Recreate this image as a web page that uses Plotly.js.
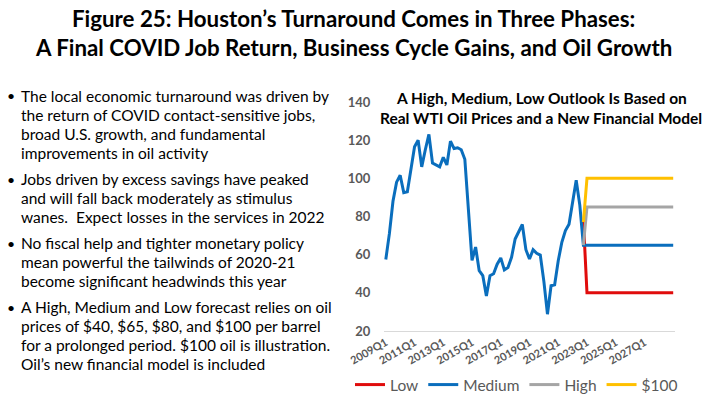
<!DOCTYPE html>
<html>
<head>
<meta charset="utf-8">
<script src="https://cdn.plot.ly/plotly-3.0.1.min.js"></script>
<style>
  html, body { margin: 0; padding: 0; background: #fff; }
  #chart { width: 706px; height: 395px; }
</style>
</head>
<body>
<div id="chart"></div>
<script>
// ---- data ----
const firstYear = 2009;
const nQuarters = 81; // 2009Q1 .. 2029Q1
const quarters = [];
for (let k = 0; k < nQuarters; k++) {
  quarters.push((firstYear + Math.floor(k / 4)) + 'Q' + (k % 4 + 1));
}
const tickLabels = ['2009Q1','2011Q1','2013Q1','2015Q1','2017Q1','2019Q1','2021Q1','2023Q1','2025Q1','2027Q1'];

const medium = [
  57.5, 71, 88, 98, 101.6, 92.5, 93, 105,
  116.5, 120, 106, 115, 123, 108, 107, 106,
  111, 107, 119.5, 115.6, 116, 115, 110, 85,
  57, 64, 51.6, 49, 38.4, 49, 50, 55,
  58.3, 52, 53.3, 58.6, 68.2, 72, 75.8, 62.6,
  57.7, 62.6, 60.7, 59.8, 46, 28.8, 43.7, 44.2,
  56.8, 66.5, 72.6, 76, 87, 99, 86, 65,
  65, 65, 65, 65, 65, 65, 65, 65,
  65, 65, 65, 65, 65, 65, 65, 65,
  65, 65, 65, 65, 65, 65, 65, 65,
  65
];
const low = [
  null, null, null, null, null, null, null, null,
  null, null, null, null, null, null, null, null,
  null, null, null, null, null, null, null, null,
  null, null, null, null, null, null, null, null,
  null, null, null, null, null, null, null, null,
  null, null, null, null, null, null, null, null,
  null, null, null, null, null, null, null, 78,
  40, 40, 40, 40, 40, 40, 40, 40,
  40, 40, 40, 40, 40, 40, 40, 40,
  40, 40, 40, 40, 40, 40, 40, 40,
  40
];
const high = [
  null, null, null, null, null, null, null, null,
  null, null, null, null, null, null, null, null,
  null, null, null, null, null, null, null, null,
  null, null, null, null, null, null, null, null,
  null, null, null, null, null, null, null, null,
  null, null, null, null, null, null, null, null,
  null, null, null, null, null, null, null, 65,
  85, 85, 85, 85, 85, 85, 85, 85,
  85, 85, 85, 85, 85, 85, 85, 85,
  85, 85, 85, 85, 85, 85, 85, 85,
  85
];
const oil100 = [
  null, null, null, null, null, null, null, null,
  null, null, null, null, null, null, null, null,
  null, null, null, null, null, null, null, null,
  null, null, null, null, null, null, null, null,
  null, null, null, null, null, null, null, null,
  null, null, null, null, null, null, null, null,
  null, null, null, null, null, null, null, 77,
  100, 100, 100, 100, 100, 100, 100, 100,
  100, 100, 100, 100, 100, 100, 100, 100,
  100, 100, 100, 100, 100, 100, 100, 100,
  100
];

const mainTitle = ['Figure 25: Houston’s Turnaround Comes in Three Phases:', 'A Final COVID Job Return, Business Cycle Gains, and Oil Growth'];
const chartTitle = ['A High, Medium, Low Outlook Is Based on', 'Real WTI Oil Prices and a New Financial Model'];
const bullets = [
  ['The local economic turnaround was driven by', 'the return of COVID contact-sensitive jobs,', 'broad U.S. growth, and fundamental', 'improvements in oil activity'],
  ['Jobs driven by excess savings have peaked', 'and will fall back moderately as stimulus', 'wanes.  Expect losses in the services in 2022'],
  ['No fiscal help and tighter monetary policy', 'mean powerful the tailwinds of 2020-21', 'become significant headwinds this year'],
  ['A High, Medium and Low forecast relies on oil', 'prices of $40, $65, $80, and $100 per barrel', 'for a prolonged period. $100 oil is illustration.', 'Oil’s new financial model is included']
];

// ---- layout helpers (pixel -> paper) ----
const W = 706, H = 395;
const PL = 384, PR = 675, PT = 102, PB = 331;
const px = x => (x - PL) / (PR - PL);
const py = y => (PB - y) / (PB - PT);

const annotations = [];
// main title
mainTitle.forEach((t, k) => {
  annotations.push({
    text: '<b>' + t + '</b>', xref: 'paper', yref: 'paper',
    x: px(353), y: py(18 + k * 29), xanchor: 'center', yanchor: 'middle',
    showarrow: false, font: { family: 'Lato, sans-serif', size: 22.3, color: '#000' }
  });
});
// chart title
chartTitle.forEach((t, k) => {
  annotations.push({
    text: '<b>' + t + '</b>', xref: 'paper', yref: 'paper',
    x: px(541), y: py(98 + k * 19.5), xanchor: 'center', yanchor: 'middle',
    showarrow: false, font: { family: 'Lato, sans-serif', size: 15.5, color: '#000' }
  });
});
// bullets
const paraStart = [96, 179, 243, 307];
bullets.forEach((para, p) => {
  annotations.push({
    text: '•', xref: 'paper', yref: 'paper', x: px(5), y: py(paraStart[p]),
    xanchor: 'left', yanchor: 'middle', showarrow: false,
    font: { family: 'Lato, sans-serif', size: 14, color: '#000' }
  });
  para.forEach((line, k) => {
    annotations.push({
      text: line, xref: 'paper', yref: 'paper', x: px(19), y: py(paraStart[p] + k * 19),
      xanchor: 'left', yanchor: 'middle', showarrow: false,
      font: { family: 'Lato, sans-serif', size: 15.5, color: '#000' }
    });
  });
});

const lineW = 3;
const traces = [
  { name: 'Low', x: quarters, y: low, type: 'scatter', mode: 'lines', line: { color: '#E00C0C', width: lineW } },
  { name: 'Medium', x: quarters, y: medium, type: 'scatter', mode: 'lines', line: { color: '#0A6EBD', width: lineW } },
  { name: 'High', x: quarters, y: high, type: 'scatter', mode: 'lines', line: { color: '#A5A5A5', width: lineW } },
  { name: '$100', x: quarters, y: oil100, type: 'scatter', mode: 'lines', line: { color: '#FFC000', width: lineW } }
];

const layout = {
  width: W, height: H,
  margin: { l: PL, r: W - PR, t: PT, b: H - PB, autoexpand: false },
  paper_bgcolor: '#fff', plot_bgcolor: '#fff',
  showlegend: true,
  xaxis: {
    type: 'category', categoryorder: 'array', categoryarray: quarters,
    range: [-0.5, nQuarters - 0.5],
    tickmode: 'array', tickvals: tickLabels, ticktext: tickLabels.map(t => '<b>' + t + '</b>'),
    tickangle: -30, tickfont: { family: 'Lato, sans-serif', size: 11, color: '#595959' },
    showgrid: false, zeroline: false, showline: true, linecolor: '#D9D9D9', linewidth: 1,
    ticks: ''
  },
  yaxis: {
    range: [20, 140], tickmode: 'array', tickvals: [20, 40, 60, 80, 100, 120, 140],
    ticktext: ['20','40','60','80','100','120','140'].map(t => '<b>' + t + '</b>'),
    tickfont: { family: 'Lato, sans-serif', size: 13, color: '#595959' },
    showgrid: false, zeroline: false, showline: false,
    ticks: 'outside', ticklen: 10, tickcolor: 'rgba(0,0,0,0)'
  },
  legend: {
    orientation: 'h', xref: 'paper', yref: 'paper',
    x: px(350), xanchor: 'left', y: py(385), yanchor: 'middle',
    font: { family: 'Lato, sans-serif', size: 15.5, color: '#595959' },
    itemwidth: 30, tracegroupgap: 0, bgcolor: 'rgba(0,0,0,0)'
  },
  annotations: annotations
};

Plotly.newPlot('chart', traces, layout, { staticPlot: true, displayModeBar: false });
</script>
</body>
</html>
